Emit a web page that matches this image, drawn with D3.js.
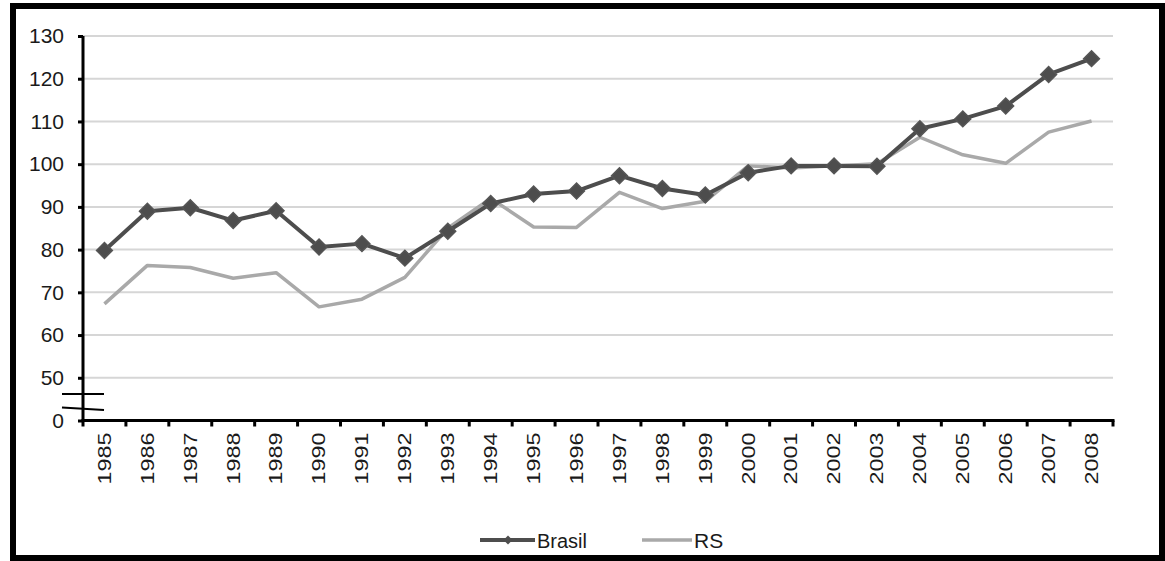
<!DOCTYPE html>
<html>
<head>
<meta charset="utf-8">
<script src="https://cdn.jsdelivr.net/npm/d3@7"></script>
<style>
  body { margin: 0; background: #fff; }
  text { font-family: Arial, "Liberation Sans", sans-serif; fill: #1a1a1a; }
</style>
</head>
<body>
<svg id="chart" width="1165" height="561"></svg>
<script>
const years = ["1985","1986","1987","1988","1989","1990","1991","1992","1993","1994","1995","1996",
               "1997","1998","1999","2000","2001","2002","2003","2004","2005","2006","2007","2008"];
const brasil = [79.8, 89.0, 89.8, 86.8, 89.1, 80.6, 81.4, 78.0, 84.3, 90.8, 93.0, 93.7,
                97.3, 94.3, 92.8, 98.0, 99.6, 99.6, 99.5, 108.3, 110.6, 113.6, 121.0, 124.7];
const rs = [67.3, 76.3, 75.8, 73.3, 74.6, 66.6, 68.4, 73.5, 85.0, 92.0, 85.3, 85.2,
            93.4, 89.6, 91.3, 99.6, 99.1, 99.6, 100.1, 106.3, 102.2, 100.2, 107.5, 110.1];
const yTickValues = [40, 50, 60, 70, 80, 90, 100, 110, 120, 130];
const yTickLabels = ["0", "50", "60", "70", "80", "90", "100", "110", "120", "130"];
const seriesNames = ["Brasil", "RS"];

const svg = d3.select("#chart");

// frame
svg.append("rect").attr("x", 13).attr("y", 6).attr("width", 1149).attr("height", 552)
  .attr("fill", "#fff").attr("stroke", "#000").attr("stroke-width", 6);

const x = d3.scaleBand().domain(years).range([83, 1113]).paddingInner(0).paddingOuter(0);
const y = d3.scaleLinear().domain([40, 130]).range([420.5, 36]);

// gridlines (from 50 up)
svg.append("g").selectAll("line").data(yTickValues.filter(v => v >= 50)).join("line")
  .attr("x1", 83).attr("x2", 1113)
  .attr("y1", d => y(d)).attr("y2", d => y(d))
  .attr("stroke", "#d6d6d6").attr("stroke-width", 2);

// y axis
const yAxis = d3.axisLeft(y).tickValues(yTickValues).tickSize(5).tickPadding(14)
  .tickFormat((d, i) => yTickLabels[i]);
const gy = svg.append("g").attr("transform", "translate(83,0)").call(yAxis);
gy.select(".domain").attr("stroke", "#000").attr("stroke-width", 3)
  .attr("d", `M0,${y(130)}V${y(40)}`);
gy.selectAll(".tick line").attr("stroke", "#000").attr("stroke-width", 3);
gy.selectAll(".tick text").attr("font-size", 21).attr("fill", "#1a1a1a")
  .attr("font-family", "Arial, 'Liberation Sans', sans-serif");

// axis break marks
svg.append("line").attr("x1", 62).attr("x2", 104).attr("y1", 394).attr("y2", 394)
  .attr("stroke", "#000").attr("stroke-width", 2);
svg.append("line").attr("x1", 62).attr("x2", 104).attr("y1", 407.5).attr("y2", 410)
  .attr("stroke", "#000").attr("stroke-width", 2);

// x axis: ticks at band boundaries
const gx = svg.append("g").attr("transform", `translate(0,${y(40)})`);
gx.append("line").attr("x1", 81.5).attr("x2", 1114.5).attr("y1", 0).attr("y2", 0)
  .attr("stroke", "#000").attr("stroke-width", 3);
const bounds = years.map(d => x(d)).concat([x(years[years.length - 1]) + x.bandwidth()]);
gx.selectAll("line.tk").data(bounds).join("line").attr("class", "tk")
  .attr("x1", d => d).attr("x2", d => d).attr("y1", 0).attr("y2", 6)
  .attr("stroke", "#000").attr("stroke-width", 3);
gx.selectAll("text").data(years).join("text")
  .attr("transform", d => `translate(${x(d) + x.bandwidth() / 2},12) rotate(-90) scale(1.3,1)`)
  .attr("text-anchor", "end").attr("dy", "0.35em")
  .attr("font-size", 18).text(d => d);

const cx = d => x(d) + x.bandwidth() / 2;

const line = d3.line().x((d, i) => cx(years[i])).y(d => y(d));

// RS line
svg.append("path").datum(rs).attr("d", line)
  .attr("fill", "none").attr("stroke", "#a9a9a9").attr("stroke-width", 3.5)
  .attr("stroke-linejoin", "round");

// Brasil line
svg.append("path").datum(brasil).attr("d", line)
  .attr("fill", "none").attr("stroke", "#4d4d4d").attr("stroke-width", 4)
  .attr("stroke-linejoin", "round");

svg.append("g").selectAll("path").data(brasil).join("path")
  .attr("transform", (d, i) => `translate(${cx(years[i])},${y(d)}) rotate(45)`)
  .attr("d", d3.symbol().type(d3.symbolSquare).size(125))
  .attr("fill", "#4d4d4d").attr("stroke", "#555").attr("stroke-width", 1.5);

// legend
const lg = svg.append("g");
lg.append("line").attr("x1", 480).attr("x2", 535).attr("y1", 540).attr("y2", 540)
  .attr("stroke", "#4d4d4d").attr("stroke-width", 4);
lg.append("path").attr("transform", "translate(508,540) rotate(45)")
  .attr("d", d3.symbol().type(d3.symbolSquare).size(40)).attr("fill", "#4d4d4d");
lg.append("text").attr("x", 537).attr("y", 541).attr("dy", "0.35em").attr("font-size", 20)
  .attr("fill", "#333").text(seriesNames[0]);
lg.append("line").attr("x1", 642).attr("x2", 692).attr("y1", 540).attr("y2", 540)
  .attr("stroke", "#a9a9a9").attr("stroke-width", 3.5);
lg.append("text").attr("x", 694).attr("y", 541).attr("dy", "0.35em").attr("font-size", 21)
  .attr("fill", "#333").text(seriesNames[1]);
</script>
</body>
</html>
